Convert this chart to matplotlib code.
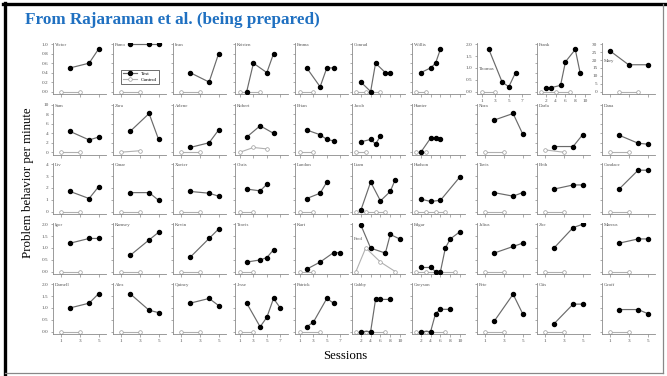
import matplotlib
matplotlib.use("Agg")
import matplotlib.pyplot as plt
from matplotlib.lines import Line2D

# session layouts: 5-session, 7-session and 10-session studies
SCALES = {
    "A": dict(xlim=(0.2, 5.78), ticks=[1, 3, 5]),
    "B": dict(xlim=(0.25, 8.16), ticks=[1, 3, 5, 7]),
    "C": dict(xlim=(0.2, 11.0), ticks=[2, 4, 6, 8, 10]),
}
col_scale = ["A", "A", "A", "B", "B", "C", "C", "A", "A", "A"]

row_ymax = [1.0, 10, 4, 2.0, 2.0]
row_yticks = [
    [0.0, 0.2, 0.4, 0.6, 0.8, 1.0],
    [0, 2, 4, 6, 8, 10],
    [0, 1, 2, 3, 4],
    [0.0, 0.5, 1.0, 1.5, 2.0],
    [0.0, 0.5, 1.0, 1.5, 2.0],
]
row_fmt = ["{:.1f}", "{:d}", "{:d}", "{:.1f}", "{:.1f}"]

names = [
    ["Victor", "Pamo", "Ivan", "Kristen", "Emma", "Conrad", "Willis", "Thomas", "Frank", "Mary"],
    ["Sam", "Zara", "Arlene", "Robert", "Brian", "Jacob", "Hunter", "Nora", "Darla", "Dana"],
    ["Liv", "Omar", "Xavier", "Chris", "Landon", "Liam", "Hudson", "Tavis", "Beth", "Candace"],
    ["Igor", "Ramsey", "Kevin", "Travis", "Kurt", "Fred", "Edgar", "Julius", "Zoe", "Marcus"],
    ["Darnell", "Alex", "Quincy", "Jesse", "Patrick", "Gabby", "Greyson", "Pete", "Otis", "Geoff"],
]

# test sessions (x) and problem behaviour per minute (y)
test_x = [
    [[2, 4, 5], [2, 4, 5], [2, 4, 5], [2, 3, 5, 6], [2, 4, 5, 6], [2, 4, 5, 7, 8], [2, 4, 5, 6], [2, 4, 5, 6], [2, 3, 5, 6, 8, 9], [1, 3, 5]],
    [[2, 4, 5], [2, 4, 5], [2, 4, 5], [2, 4, 6], [2, 4, 5, 6], [2, 4, 5, 6], [2, 4, 5, 6], [2, 4, 5], [2, 4, 5], [2, 4, 5]],
    [[2, 4, 5], [2, 4, 5], [2, 4, 5], [2, 4, 5], [2, 4, 5], [2, 4, 6, 8, 9], [2, 4, 6, 10], [2, 4, 5], [2, 4, 5], [2, 4, 5]],
    [[2, 4, 5], [2, 4, 5], [2, 4, 5], [2, 4, 5, 6], [2, 4, 6, 7], [2, 4, 7, 8, 10], [2, 4, 5, 6, 7, 8, 10], [2, 4, 5], [2, 4, 5], [2, 4, 5]],
    [[2, 4, 5], [2, 4, 5], [2, 4, 5], [2, 4, 5, 6, 7], [2, 3, 5, 6], [2, 4, 5, 6, 8], [2, 4, 5, 6, 8], [2, 4, 5], [2, 4, 5], [2, 4, 5]],
]
test_y = [
    [[0.5, 0.6, 0.9], [1.0, 1.0, 1.0], [0.4, 0.2, 0.8], [0.0, 0.6, 0.4, 0.8], [0.5, 0.1, 0.5, 0.5],
     [0.2, 0.0, 0.6, 0.4, 0.4], [0.4, 0.5, 0.6, 0.9], [1.8, 0.4, 0.2, 0.8], [0.08, 0.08, 0.13, 0.63, 0.89, 0.39], [26, 17, 17]],
    [[4.4, 2.6, 3.2], [4.4, 8.2, 2.7], [1.0, 2.0, 4.7], [3.2, 5.6, 4.0], [4.7, 3.7, 2.7, 2.4],
     [2.2, 2.7, 1.75, 3.4], [0.0, 3.0, 3.1, 2.9], [6.8, 8.2, 3.9], [1.2, 1.2, 3.7], [3.6, 1.9, 1.7]],
    [[1.7, 1.1, 2.1], [1.6, 1.6, 0.95], [1.7, 1.55, 1.3], [1.9, 1.75, 2.3], [1.1, 1.55, 2.5],
     [0.1, 2.5, 0.9, 1.7, 2.7], [1.05, 0.85, 0.95, 2.95], [1.6, 1.3, 1.6], [1.9, 2.25, 2.25], [1.9, 3.5, 3.5]],
    [[1.2, 1.4, 1.4], [0.68, 1.34, 1.66], [0.6, 1.4, 1.8], [0.4, 0.49, 0.59, 0.92], [0.1, 0.4, 0.8, 0.8],
     [1.97, 0.99, 0.78, 1.57, 1.37], [0.17, 0.17, 0.0, 0.0, 1.0, 1.38, 1.69], [0.78, 1.06, 1.2], [1.0, 1.86, 2.0], [1.2, 1.38, 1.38]],
    [[1.0, 1.2, 1.6], [1.6, 0.9, 0.8], [1.2, 1.4, 1.1], [1.2, 0.2, 0.6, 1.4, 1.0], [0.2, 0.4, 1.4, 1.2],
     [0.0, 0.0, 1.36, 1.36, 1.36], [0.0, 0.0, 0.76, 0.94, 0.94], [0.43, 1.58, 0.76], [0.33, 1.16, 1.16], [0.93, 0.93, 0.76]],
]

# control sessions; values are zero unless listed in control_y
control_x = [
    [[1, 3], [1, 3], [1, 3], [1, 4], [1, 3], [1, 3, 6], [1, 3], [1, 3], [1, 4, 7], [2, 4]],
    [[1, 3], [1, 3], [1, 3], [1, 3, 5], [1, 3], [1, 3], [1, 3], [1, 3], [1, 3], [1, 3]],
    [[1, 3], [1, 3], [1, 3], [1, 3], [1, 3], [1, 3, 5, 7], [1, 3, 5, 7], [1, 3], [1, 3], [1, 3]],
    [[1, 3], [1, 3], [1, 3], [1, 3], [1, 3], [1, 3, 6, 9], [1, 3, 9], [1, 3], [1, 3], [1, 3]],
    [[1, 3], [1, 3], [1, 3], [1, 3], [1, 4], [1, 3, 7], [1, 3, 7], [1, 3], [1, 3], [1, 3]],
]
control_y = {
    (1, 1): [0.0, 0.3],
    (1, 3): [0.0, 1.0, 0.7],
    (1, 8): [0.5, 0.0],
    (3, 5): [0.0, 1.0, 0.4, 0.0],
}

# panels that carry their own axis scales
own_scale = {(0, 7): "B", (0, 8): "C"}
own_y = {(0, 7): (2.0, [0.0, 0.5, 1.0, 1.5, 2.0], "{:.1f}"),
         (0, 9): (30, [0, 5, 10, 15, 20, 25, 30], "{:d}")}
# name placed lower down in a few panels (axes fraction of label top)
name_pos = {(0, 7): 0.52, (0, 9): 0.68, (3, 5): 0.72}

col_left = [53, 113, 173, 235, 295, 352, 412, 477, 537, 602]
row_top = [44.3, 105.0, 164.3, 224.3, 284.3]
PANEL_W = 53
DATA_H = 47.2

W, H = 667, 376
fig = plt.figure(figsize=(W / 100, H / 100), dpi=100)
fig.patch.set_facecolor("white")

serif = ["Liberation Serif", "DejaVu Serif"]
axis_grey = "#8a8a8a"

for r in range(5):
    for c in range(10):
        key = (r, c)
        sc = SCALES[own_scale.get(key, col_scale[c])]
        ymax, yticks, fmt = own_y.get(key, (row_ymax[r], row_yticks[r], row_fmt[r]))
        top_px = row_top[r] - 1.5
        bot_px = row_top[r] + DATA_H + 2.5
        ax = fig.add_axes([col_left[c] / W, (H - bot_px) / H,
                           PANEL_W / W, (bot_px - top_px) / H])
        ax.set_xlim(*sc["xlim"])
        ax.set_ylim(-2.5 / DATA_H * ymax, ymax + 1.5 / DATA_H * ymax)
        for s in ("top", "right"):
            ax.spines[s].set_visible(False)
        for s in ("left", "bottom"):
            ax.spines[s].set_color(axis_grey)
            ax.spines[s].set_linewidth(0.6)
        ax.set_xticks(sc["ticks"])
        ax.set_yticks(yticks)
        ax.tick_params(length=1.8, width=0.5, color=axis_grey, pad=1.5,
                       labelsize=3.8, labelcolor="#555555")
        if r == 4 or key in own_scale:
            ax.set_xticklabels([str(t) for t in sc["ticks"]], family=serif)
        else:
            ax.set_xticklabels([])
        if c == 0 or key in own_y:
            ax.set_yticklabels([fmt.format(t) for t in yticks], family=serif)
        else:
            ax.set_yticklabels([])

        cx = control_x[r][c]
        cy = control_y.get(key, [0] * len(cx))
        ax.plot(cx, cy, color="#b0b0b0", lw=0.8, marker="o", ms=2.6,
                mfc="white", mec="#9a9a9a", mew=0.5, label="Control", zorder=2)
        ax.plot(test_x[r][c], test_y[r][c], color="#6a6a6a", lw=0.85,
                marker="o", ms=2.9, mfc="black", mec="black", label="Test", zorder=3)

        ax.text(0.03, name_pos.get(key, 0.99), names[r][c], transform=ax.transAxes,
                fontsize=3.5, family=serif, color="#555555", va="top", ha="left")

        if key == (0, 1):
            h, l = ax.get_legend_handles_labels()
            leg = ax.legend(h[::-1], l[::-1], loc="lower left",
                            bbox_to_anchor=(0.1, 0.14), handlelength=2.6,
                            frameon=True, fancybox=False, borderpad=0.4,
                            labelspacing=0.2, prop={"family": serif, "size": 3.8})
            leg.get_frame().set_edgecolor("black")
            leg.get_frame().set_linewidth(0.5)

fig.text(25 / W, 1 - 20 / H, "From Rajaraman et al. (being prepared)",
         fontsize=12.3, fontweight="bold", color="#1f70c1",
         family=serif, va="center", ha="left")
fig.text(345 / W, 1 - 356 / H, "Sessions", fontsize=9.3, family=serif,
         ha="center", va="center")
fig.text(28 / W, 1 - 183 / H, "Problem behavior per minute", fontsize=9.3,
         family=serif, rotation=90, ha="center", va="center")

# slide frame
def px_line(x0, y0, x1, y1, color, lw):
    fig.add_artist(Line2D([x0 / W, x1 / W], [1 - y0 / H, 1 - y1 / H],
                          transform=fig.transFigure, color=color, lw=lw))

px_line(3, 3.5, 667, 3.5, "black", 2.4)
px_line(4.5, 2.5, 4.5, 374, "black", 2.4)
px_line(663, 3.5, 663, 373, "#888888", 0.9)
px_line(4.5, 372.5, 663, 372.5, "#888888", 0.9)

fig.savefig("out.png", dpi=100)
